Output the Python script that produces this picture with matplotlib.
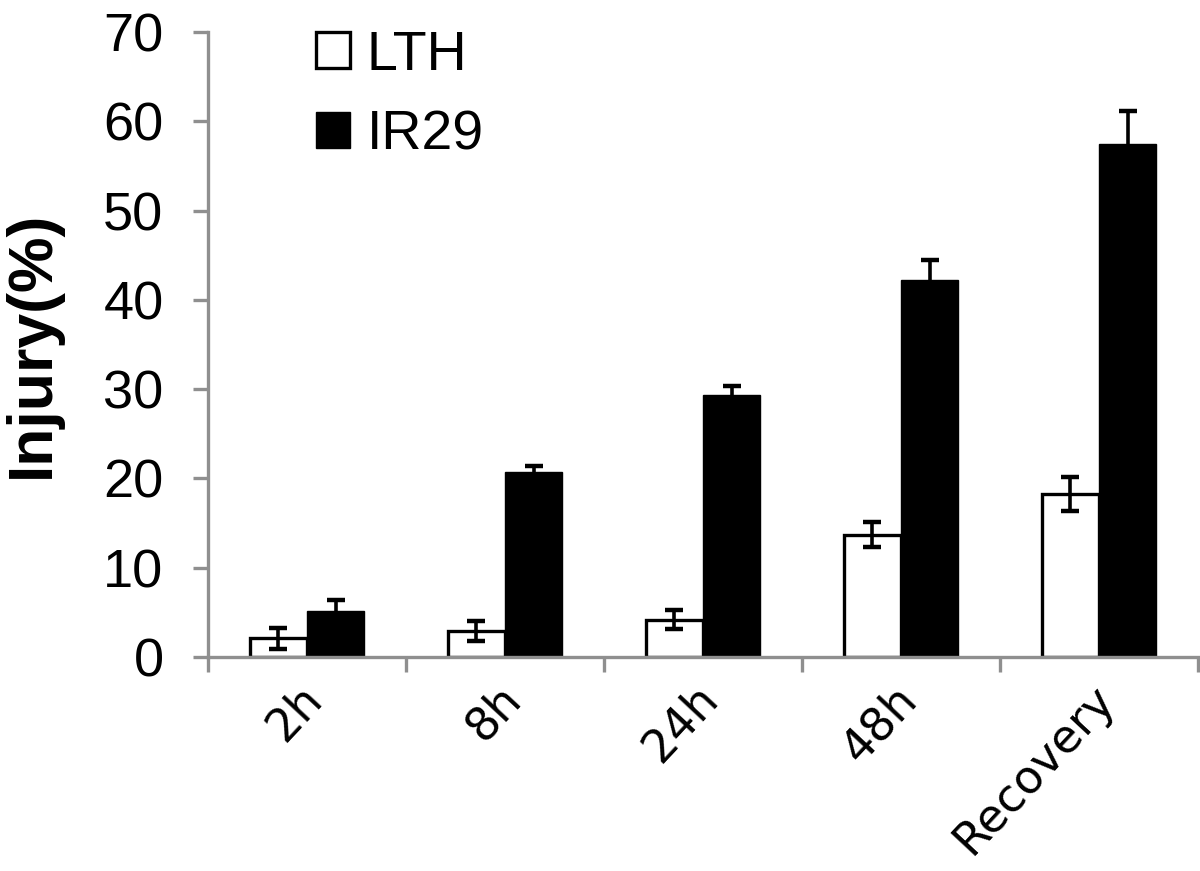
import numpy as np
import matplotlib
matplotlib.use('Agg')
import matplotlib.pyplot as plt

# данные
categories = ['2h', '8h', '24h', '48h', 'Recovery']
lth = [2.1, 2.9, 4.2, 13.7, 18.3]
lth_err = [1.2, 1.15, 1.1, 1.4, 1.9]
ir29 = [5.1, 20.7, 29.3, 42.2, 57.5]
ir29_err = [1.3, 0.65, 1.0, 2.3, 3.7]

grey = '#8f8f8f'

fig = plt.figure(figsize=(12, 8.71), dpi=100)
ax = fig.add_axes([208 / 1200, 1 - 657 / 871, 990 / 1200, 625 / 871])

x = np.arange(len(categories)) + 0.5
w = 0.29
err_kw = dict(ecolor='black', elinewidth=2.6, capsize=6.5, capthick=3.2)

ax.bar(x - w / 2, lth, w, yerr=lth_err, color='white', edgecolor='black',
       linewidth=2.4, label='LTH', error_kw=err_kw, zorder=2)
ax.bar(x + w / 2, ir29, w, yerr=ir29_err, color='black', edgecolor='black',
       linewidth=1, label='IR29', error_kw=err_kw, zorder=2)

ax.set_xlim(0, len(categories))
ax.set_ylim(0, 70)
ax.set_yticks(range(0, 71, 10))
ax.set_xticks(range(len(categories) + 1))
ax.set_xticklabels([])
ax.set_xticks(x - 0.04, minor=True)
ax.set_xticklabels(categories, minor=True, rotation=47, ha='right',
                   va='top', rotation_mode='anchor', fontsize=33,
                   family='DejaVu Sans')
ax.tick_params(axis='x', which='minor', length=0, pad=14)

for s in ['top', 'right']:
    ax.spines[s].set_visible(False)
for s in ['left', 'bottom']:
    ax.spines[s].set_color(grey)
    ax.spines[s].set_linewidth(2.4)

ax.tick_params(axis='both', which='major', direction='out', length=11,
               width=2.4, color=grey)
ax.tick_params(axis='y', labelsize=39, pad=21)
for t in ax.get_yticklabels():
    t.set_family('Liberation Sans')

ax.set_ylabel('Injury(%)', fontsize=45, fontweight='bold',
              family='Liberation Sans', labelpad=30)

leg = ax.legend(loc='upper left', bbox_to_anchor=(288 / 1200, 1 - 2 / 871),
                bbox_transform=fig.transFigure, frameon=False,
                prop={'family': 'Liberation Sans', 'size': 40},
                handlelength=0.62, handleheight=0.62, handletextpad=0.3,
                labelspacing=0.5, borderpad=0)

fig.savefig('out.png', dpi=100)
